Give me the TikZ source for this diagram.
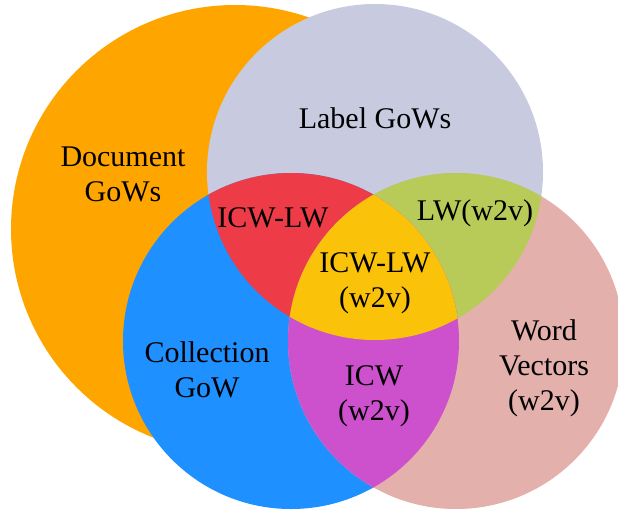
\documentclass[tikz,border=0pt]{standalone}
\usepackage{fontspec}
\setmainfont{Liberation Serif}
\definecolor{docorange}{RGB}{255,165,0}
\definecolor{lablavender}{RGB}{200,202,224}
\definecolor{colblue}{RGB}{30,144,255}
\definecolor{wvpink}{RGB}{227,176,172}
\definecolor{icwlwred}{RGB}{238,59,72}
\definecolor{lwgreen}{RGB}{184,203,88}
\definecolor{icwmagenta}{RGB}{205,80,205}
\definecolor{allyellow}{RGB}{251,194,10}
\begin{document}
\begin{tikzpicture}[
  x=1pt, y=-1pt,
  set/.style={circle, inner sep=0pt, outer sep=0pt, minimum size=336pt},
  lbl/.style={align=center, inner sep=0pt, font=\fontsize{30}{35}\selectfont}
]
\useasboundingbox (0,0) rectangle (618,512);
\clip (0,0) rectangle (618,512);

% Sets
\node[set, fill=docorange, minimum size=448pt] (doc) at (235,229) {};
\node[set, fill=lablavender] (lab) at (375,172) {};
\node[set, fill=colblue] (col) at (291,341) {};
\node[set, fill=wvpink] (wv) at (456,341) {};

% Overlaps
\begin{scope}
  \clip (lab.center) circle[radius=168pt];
  \fill[icwlwred] (col.center) circle[radius=168pt];
  \fill[lwgreen] (wv.center) circle[radius=168pt];
\end{scope}
\begin{scope}
  \clip (col.center) circle[radius=168pt];
  \fill[icwmagenta] (wv.center) circle[radius=168pt];
  \clip (lab.center) circle[radius=168pt];
  \fill[allyellow] (wv.center) circle[radius=168pt];
\end{scope}

% Labels
\node[lbl] (doctext) at (123,174) {Document\\GoWs};
\node[lbl] (labtext) at (375,118) {Label GoWs};
\node[lbl] (coltext) at (207,370) {Collection\\GoW};
\node[lbl] (wvtext) at (544,368) {Word\\Vectors\\(w2v)};
\node[lbl] (icwlwtext) at (273,218) {ICW-LW};
\node[lbl] (lwtext) at (475,213) {LW(w2v)};
\node[lbl] (alltext) at (375,283) {ICW-LW\\(w2v)};
\node[lbl] (icwtext) at (374,396) {ICW\\(w2v)};

\end{tikzpicture}
\end{document}
